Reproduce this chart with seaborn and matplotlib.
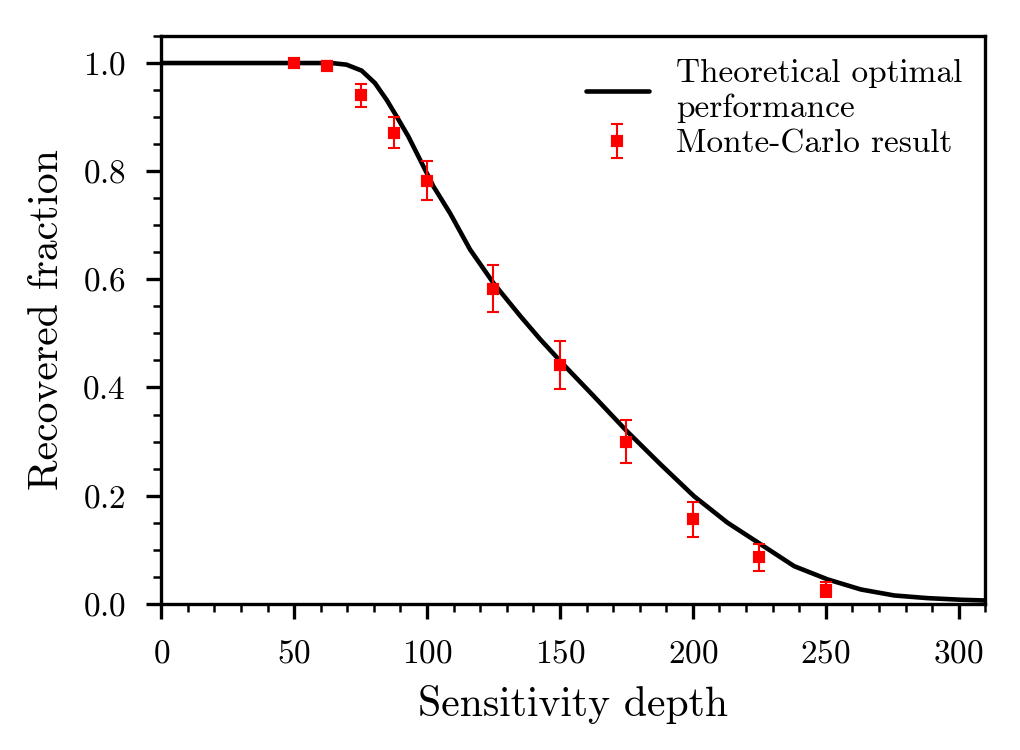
import numpy as np
import pandas as pd
import matplotlib
matplotlib.use("Agg")
import matplotlib.pyplot as plt
from matplotlib.ticker import MultipleLocator
import seaborn as sns

# theoretical optimal curve
curve_x = [0, 20, 40, 59.6, 65, 69.7, 75.4, 80.4, 84.8, 88.6, 93.0, 97.4, 102.4,
           108.7, 116.2, 125, 135.1, 142.6, 151.4, 162.7, 175, 187.8, 200.4,
           213, 225.5, 238.1, 250.7, 263.2, 275.8, 288.3, 300.9, 310]
curve_y = [1.0, 1.0, 1.0, 1.0, 0.9995, 0.997, 0.986, 0.963, 0.932, 0.901, 0.864, 0.821, 0.772,
           0.722, 0.655, 0.593, 0.532, 0.489, 0.442, 0.384, 0.320, 0.258, 0.199,
           0.150, 0.110, 0.0695, 0.045, 0.0264, 0.0153, 0.0104, 0.0074, 0.006]

# Monte-Carlo points
mc_x = [50, 62.5, 75, 87.5, 100, 125, 150, 175, 200, 225, 250]
mc_y = [1.0, 0.995, 0.940, 0.871, 0.782, 0.583, 0.442, 0.300, 0.156, 0.086, 0.026]
mc_err = [0.002, 0.008, 0.022, 0.029, 0.036, 0.043, 0.044, 0.039, 0.032, 0.025, 0.014]

sns.set_theme(style="ticks")
plt.rcParams["font.family"] = ["cmr10", "DejaVu Serif"]
plt.rcParams["mathtext.fontset"] = "cm"
plt.rcParams["axes.formatter.use_mathtext"] = True
plt.rcParams["axes.edgecolor"] = "black"
plt.rcParams["axes.linewidth"] = 0.8
plt.rcParams["text.color"] = "black"
plt.rcParams["axes.labelcolor"] = "black"

curve = pd.DataFrame({"depth": curve_x, "frac": curve_y})

fig, ax = plt.subplots(figsize=(3.4, 2.5), dpi=300)
fig.subplots_adjust(left=0.158, right=0.966, top=0.952, bottom=0.195)

sns.lineplot(data=curve, x="depth", y="frac", color="black", linewidth=1.1,
             label="Theoretical optimal\nperformance", ax=ax)
ax.errorbar(mc_x, mc_y, yerr=mc_err, fmt="s", color="red", markersize=1.9,
            elinewidth=0.5, capsize=1.5, capthick=0.5, label="Monte-Carlo result")

ax.set_xlim(0, 310)
ax.set_ylim(0, 1.05)
ax.xaxis.set_major_locator(MultipleLocator(50))
ax.xaxis.set_minor_locator(MultipleLocator(10))
ax.yaxis.set_major_locator(MultipleLocator(0.2))
ax.yaxis.set_minor_locator(MultipleLocator(0.05))
ax.tick_params(which="both", direction="out", top=False, right=False,
               labelsize=8, color="black", labelcolor="black")
ax.tick_params(which="major", length=3.5, width=0.8, pad=5)
ax.tick_params(which="minor", length=2, width=0.6)

ax.set_xlabel("Sensitivity depth", fontsize=10)
ax.set_ylabel("Recovered fraction", fontsize=10)

ax.legend(loc="upper right", frameon=False, fontsize=8, handlelength=1.9,
          labelspacing=0.2, borderaxespad=0.3, labelcolor="black")

fig.savefig("out.png", dpi=300)
